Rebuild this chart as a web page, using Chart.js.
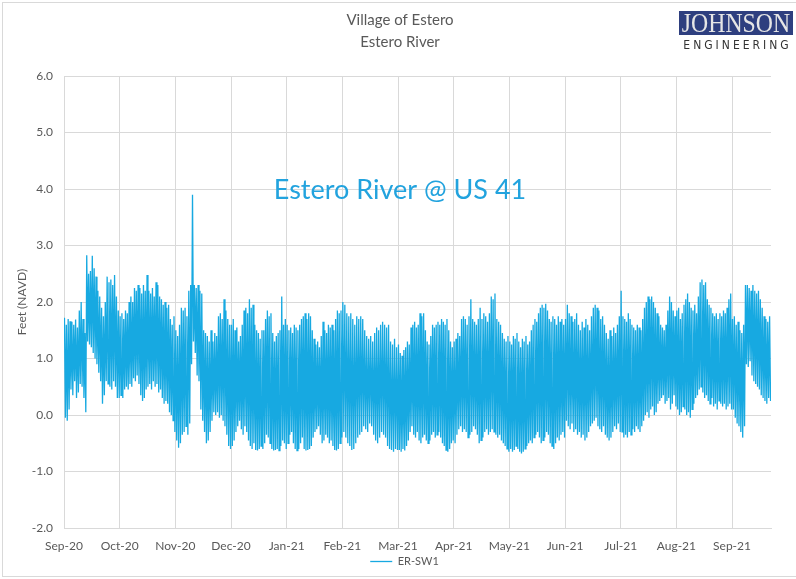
<!DOCTYPE html>
<html><head><meta charset="utf-8">
<script src="https://cdn.jsdelivr.net/npm/chart.js@4.4.1/dist/chart.umd.min.js"></script>
<style>
html,body{margin:0;padding:0;background:#fff;}
#wrap{position:relative;width:796px;height:579px;overflow:hidden;background:#fff;}
#frame{position:absolute;left:2px;top:2px;width:800px;height:575px;border:1px solid #d9d9d9;box-sizing:border-box;pointer-events:none;}
canvas{position:absolute;left:0;top:0;}
#logo{position:absolute;left:679px;top:11px;width:114px;}
#logoBox{position:relative;background:#2e3f7f;color:#e6e6e6;font-family:"Liberation Serif",serif;font-size:27px;line-height:25px;height:24px;overflow:hidden;white-space:nowrap;}
#logoBox span{position:absolute;left:50%;top:0;transform:translateX(-50%) scaleX(0.88);}
#logoSub{font-family:"DejaVu Sans Condensed","DejaVu Sans",sans-serif;font-size:12px;letter-spacing:3px;color:#333;margin-top:3px;text-align:center;padding-left:3px;}
</style></head>
<body><div id="wrap"><canvas id="c" width="796" height="579"></canvas><div id="frame"></div>
<div id="logo"><div id="logoBox"><span>JOHNSON</span></div><div id="logoSub">ENGINEERING</div></div></div>
<script>
const monthLabels = ['Sep-20','Oct-20','Nov-20','Dec-20','Jan-21','Feb-21','Mar-21','Apr-21','May-21','Jun-21','Jul-21','Aug-21','Sep-21'];
// daily high / low water levels (ft NAVD), one entry per day
const sep20Hi = [1.72,1.6,1.7,1.66,1.65,1.6,1.69,1.55,1.85,2.0,1.7,1.45,2.83,2.5,2.55,2.82,2.6,2.45,2.2,2.1,1.9,1.75,2.0,2.45,2.35,2.4,2.3,2.48,2.1,1.85];
const sep20Lo = [-0.05,-0.1,0.1,0.45,0.35,0.6,0.3,0.4,0.55,0.5,0.3,0.05,1.3,1.25,1.2,1.1,1.0,0.9,0.75,0.6,0.2,0.35,0.6,0.55,0.5,0.45,0.6,0.5,0.3,0.3];
const oct20Hi = [1.75,1.8,1.7,1.85,1.8,2.0,2.1,2.0,2.25,2.2,2.3,2.25,2.15,2.3,2.2,2.48,2.2,2.15,2.25,2.1,2.35,2.3,2.1,2.05,1.95,2.0,1.9,1.95,1.7,1.6,1.75];
const oct20Lo = [0.35,0.3,0.45,0.5,0.45,0.55,0.5,0.65,0.6,0.7,0.55,0.35,0.25,0.3,0.45,0.5,0.55,0.45,0.6,0.5,0.55,0.4,0.45,0.3,0.2,0.25,0.2,0.05,0.0,-0.1,-0.3];
const nov20Hi = [1.5,1.4,1.6,1.9,1.85,1.9,1.75,2.2,2.3,3.9,2.3,2.25,2.3,2.2,2.15,1.5,1.45,1.4,1.3,1.5,1.3,1.45,1.4,1.75,1.8,1.7,2.05,1.85,1.7,1.6];
const nov20Lo = [-0.45,-0.58,-0.5,-0.35,-0.3,-0.2,-0.35,-0.15,0.9,1.3,1.1,0.7,0.6,0.1,-0.1,-0.3,-0.5,-0.45,-0.3,-0.1,0.05,0.0,0.05,-0.05,0.0,-0.1,-0.2,-0.35,-0.55,-0.6];
const dec20Hi = [1.6,1.7,1.5,1.55,1.3,1.4,1.6,1.85,1.9,1.8,2.05,1.9,1.95,1.6,1.5,1.45,1.35,1.5,1.5,1.7,1.85,1.75,1.8,1.45,1.3,1.4,1.45,1.5,2.1,1.6,1.7];
const dec20Lo = [-0.55,-0.45,-0.3,-0.2,-0.1,-0.25,-0.35,-0.2,-0.3,-0.45,-0.55,-0.6,-0.5,-0.62,-0.63,-0.6,-0.55,-0.6,-0.5,-0.35,-0.4,-0.5,-0.6,-0.63,-0.62,-0.6,-0.63,-0.55,-0.45,-0.5,-0.6];
const jan21Hi = [1.6,1.5,1.55,1.45,1.6,1.55,1.5,1.6,1.7,1.75,1.8,1.7,1.8,1.75,1.5,1.35,1.25,1.3,1.2,1.4,1.65,1.5,1.45,1.6,1.55,1.6,1.5,1.7,1.85,1.8,1.85];
const jan21Lo = [-0.5,-0.35,-0.3,-0.5,-0.6,-0.63,-0.6,-0.5,-0.4,-0.6,-0.63,-0.62,-0.6,-0.55,-0.4,-0.3,-0.25,-0.2,-0.35,-0.5,-0.45,-0.35,-0.4,-0.5,-0.45,-0.55,-0.62,-0.63,-0.6,-0.5,-0.4];
const feb21Hi = [2.0,1.95,1.8,1.75,1.8,1.7,1.6,1.75,1.7,1.75,1.7,1.5,1.4,1.35,1.4,1.3,1.45,1.55,1.5,1.6,1.65,1.6,1.55,1.6,1.3,1.25,1.35,1.2];
const feb21Lo = [-0.3,-0.4,-0.5,-0.55,-0.62,-0.6,-0.5,-0.4,-0.35,-0.3,-0.2,-0.25,-0.3,-0.15,-0.2,-0.35,-0.45,-0.5,-0.4,-0.3,-0.35,-0.4,-0.55,-0.6,-0.62,-0.65,-0.6,-0.62];
const mar21Hi = [1.25,1.1,1.05,1.15,1.2,1.3,1.25,1.55,1.6,1.65,1.55,1.6,1.8,1.75,1.8,1.5,1.3,1.25,1.4,1.6,1.55,1.6,1.65,1.6,1.7,1.65,1.6,1.7,1.5,1.3,1.2];
const mar21Lo = [-0.62,-0.65,-0.6,-0.63,-0.55,-0.45,-0.3,-0.2,-0.35,-0.4,-0.3,-0.45,-0.5,-0.4,-0.35,-0.45,-0.5,-0.45,-0.35,-0.3,-0.4,-0.35,-0.3,-0.4,-0.5,-0.55,-0.62,-0.65,-0.6,-0.5,-0.45];
const apr21Hi = [1.3,1.35,1.45,1.4,1.7,1.75,1.7,1.6,1.75,2.05,1.7,1.65,1.6,1.7,1.9,1.7,1.8,1.75,1.65,1.8,2.1,2.05,2.15,1.7,1.65,1.6,1.45,1.35,1.3,1.4];
const apr21Lo = [-0.5,-0.35,-0.25,-0.2,-0.3,-0.25,-0.3,-0.4,-0.35,-0.3,-0.2,-0.25,-0.35,-0.5,-0.45,-0.4,-0.3,-0.25,-0.35,-0.3,-0.25,-0.3,-0.35,-0.4,-0.35,-0.45,-0.5,-0.55,-0.6,-0.65];
const may21Hi = [1.3,1.25,1.4,1.35,1.45,1.3,1.2,1.35,1.3,1.4,1.25,1.3,1.5,1.6,1.7,1.65,1.8,1.9,1.95,1.9,1.97,1.85,1.7,1.65,1.75,1.7,1.6,1.75,1.65,1.7,1.6];
const may21Lo = [-0.6,-0.65,-0.62,-0.55,-0.6,-0.65,-0.68,-0.65,-0.6,-0.55,-0.5,-0.45,-0.5,-0.4,-0.35,-0.3,-0.4,-0.5,-0.45,-0.4,-0.3,-0.35,-0.5,-0.55,-0.6,-0.5,-0.4,-0.45,-0.35,-0.3,-0.4];
const jun21Hi = [1.7,1.95,1.8,1.75,1.65,1.7,1.8,1.6,1.5,1.65,1.55,1.7,1.6,1.5,1.75,1.9,1.95,1.9,1.85,1.7,1.75,1.6,1.45,1.35,1.5,1.4,1.55,1.45,1.6,1.75];
const jun21Lo = [-0.1,-0.2,-0.25,-0.15,-0.3,-0.25,-0.35,-0.3,-0.4,-0.35,-0.45,-0.4,-0.3,-0.2,-0.15,-0.1,-0.05,-0.2,-0.25,-0.3,-0.2,-0.35,-0.4,-0.45,-0.4,-0.3,-0.2,-0.25,-0.15,-0.3];
const jul21Hi = [2.2,1.75,1.7,1.65,1.8,1.7,1.6,1.55,1.5,1.6,1.55,1.5,1.7,1.9,2.0,2.1,2.05,2.1,2.0,1.9,1.8,1.75,1.6,1.55,1.5,1.6,1.85,2.1,2.0,1.85,1.75];
const jul21Lo = [-0.3,-0.4,-0.35,-0.4,-0.3,-0.35,-0.25,-0.3,-0.2,-0.25,-0.3,-0.2,-0.1,0.0,0.05,-0.05,0.1,0.15,0.0,0.05,0.2,0.25,0.3,0.35,0.2,0.25,0.3,0.1,0.2,0.35,0.15];
const aug21Hi = [1.85,1.9,1.7,1.8,1.95,2.05,2.15,2.0,1.9,1.85,1.95,1.8,2.1,2.35,2.4,2.3,2.35,2.05,1.95,1.9,1.8,1.75,1.8,1.7,1.8,1.75,1.85,1.8,1.9,2.05,2.15];
const aug21Lo = [0.1,0.0,0.05,0.15,0.1,0.0,0.05,-0.05,0.1,0.2,0.3,0.35,0.45,0.5,0.4,0.3,0.35,0.25,0.2,0.3,0.15,0.2,0.1,0.25,0.2,0.15,0.2,0.1,0.15,0.2,0.1];
const sep21Hi = [1.7,1.75,1.6,1.65,1.5,1.45,1.6,2.3,2.3,2.25,2.2,2.3,2.2,2.15,2.2,2.05,1.9,1.75,1.7,1.65,1.75];
const sep21Lo = [0.1,-0.05,-0.15,-0.2,-0.3,-0.4,-0.2,0.9,0.85,0.95,0.7,0.6,0.55,0.5,0.45,0.35,0.3,0.25,0.2,0.3,0.25];

const hiByMonth = [sep20Hi,oct20Hi,nov20Hi,dec20Hi,jan21Hi,feb21Hi,mar21Hi,apr21Hi,may21Hi,jun21Hi,jul21Hi,aug21Hi,sep21Hi];
const loByMonth = [sep20Lo,oct20Lo,nov20Lo,dec20Lo,jan21Lo,feb21Lo,mar21Lo,apr21Lo,may21Lo,jun21Lo,jul21Lo,aug21Lo,sep21Lo];

// x is expressed in months since 1 Sep 2020 (month gridlines are evenly spaced in the original)
const points = [];
hiByMonth.forEach((his, m) => {
  const n = new Date(2020, 8 + m + 1, 0).getDate();
  const los = loByMonth[m];
  his.forEach((h, d) => {
    points.push({x: m + (d + 0.25) / n, y: h});
    points.push({x: m + (d + 0.75) / n, y: los[d]});
  });
});
const lastMonthLen = new Date(2021, 9, 0).getDate();
const xMax = 12 + sep21Hi.length / lastMonthLen;

const grey = '#595959';
const gridCol = '#d9d9d9';
const fam = 'Lato, "Open Sans", sans-serif';

const annot = {
  id: 'annot',
  afterLayout(chart) {
    // centre title on the page and legend slightly right, as in the original
    const W = chart.width;
    if (chart.titleBlock) { chart.titleBlock.left = 0; chart.titleBlock.right = W + 4; chart.titleBlock.width = W + 4; }
    if (chart.legend) { chart.legend.left += 15; chart.legend.right += 15; }
  },
  afterDatasetsDraw(chart) {
    const ctx = chart.ctx;
    ctx.save();
    ctx.font = '27px ' + fam;
    ctx.fillStyle = '#22a3de';
    ctx.textAlign = 'center';
    ctx.textBaseline = 'middle';
    const ys = chart.scales.y;
    ctx.fillText('Estero River @ US 41', chart.width / 2 + 2, ys.getPixelForValue(3.97));
    ctx.restore();
  }
};

new Chart(document.getElementById('c'), {
  type: 'line',
  data: { datasets: [{
    label: 'ER-SW1', data: points,
    borderColor: '#17a9e1', backgroundColor: '#17a9e1',
    borderWidth: 1.3, pointRadius: 0, tension: 0, fill: false
  }]},
  options: {
    responsive: false, animation: false, devicePixelRatio: 1,
    layout: { padding: { left: 8, right: 25, top: 0, bottom: 2 } },
    scales: {
      x: {
        type: 'linear', min: 0, max: xMax,
        afterBuildTicks: s => { s.ticks = monthLabels.map((_, i) => ({ value: i })); },
        afterFit: s => { s.height = 24; },
        ticks: { autoSkip: false, maxRotation: 0, padding: 11, color: grey,
          font: { family: fam, size: 12 },
          callback: (v, i) => monthLabels[i] },
        grid: { color: gridCol, drawTicks: false },
        border: { color: gridCol }
      },
      y: {
        min: -2, max: 6,
        afterFit: s => { s.width = 56; },
        ticks: { stepSize: 1, padding: 11, color: grey, font: { family: fam, size: 12 },
          callback: v => Number(v).toFixed(1) },
        title: { display: true, text: 'Feet (NAVD)', color: grey, font: { family: fam, size: 12 }, padding: { top: 7, bottom: 0 } },
        grid: { color: gridCol, drawTicks: false },
        border: { color: gridCol }
      }
    },
    plugins: {
      title: { display: true, text: ['Village of Estero', 'Estero River'], color: grey,
        font: { family: fam, size: 15, weight: 'normal', lineHeight: 1.47 },
        padding: { top: 9, bottom: 23 } },
      legend: { position: 'bottom',
        labels: { usePointStyle: true, pointStyle: 'line', pointStyleWidth: 22, color: grey,
          font: { family: fam, size: 11 }, padding: 4 } },
      tooltip: { enabled: false }
    }
  },
  plugins: [annot]
});
</script></body></html>
